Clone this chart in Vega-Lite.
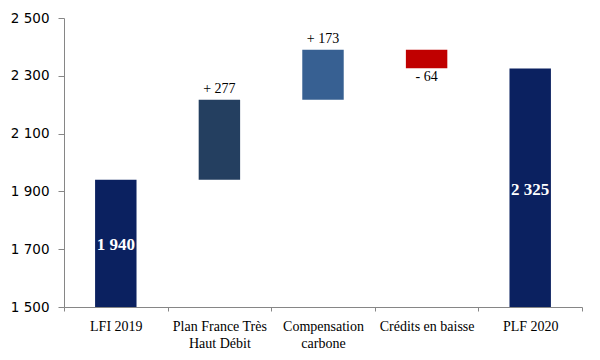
{
  "$schema": "https://vega.github.io/schema/vega-lite/v6.json",
  "width": 518,
  "height": 289,
  "autosize": "none",
  "padding": {"left": 64, "top": 18, "right": 18, "bottom": 53},
  "background": "white",
  "config": {"view": {"stroke": null}},
  "data": {
    "values": [
      {"category": "LFI 2019", "start": 1500, "end": 1940, "kind": "total", "label": "1 940"},
      {"category": "Plan France Très Haut Débit", "start": 1940, "end": 2217, "kind": "up", "label": "+ 277"},
      {"category": "Compensation carbone", "start": 2217, "end": 2390, "kind": "up", "label": "+ 173"},
      {"category": "Crédits en baisse", "start": 2390, "end": 2326, "kind": "down", "label": "- 64"},
      {"category": "PLF 2020", "start": 1500, "end": 2325, "kind": "total", "label": "2 325"}
    ]
  },
  "encoding": {
    "x": {
      "field": "category",
      "type": "nominal",
      "sort": null,
      "scale": {"paddingInner": 0, "paddingOuter": 0},
      "axis": {
        "title": null,
        "labelAngle": 0,
        "tickBand": "extent",
        "tickSize": 4,
        "tickColor": "#868686",
        "domainColor": "#868686",
        "labelFont": "Liberation Serif, Times New Roman, serif",
        "labelFontSize": 14,
        "labelColor": "#000000",
        "labelPadding": 8,
        "labelLineHeight": 17,
        "labelBaseline": "top",
        "labelExpr": "datum.value == 'Plan France Très Haut Débit' ? ['Plan France Très', 'Haut Débit'] : datum.value == 'Compensation carbone' ? ['Compensation', 'carbone'] : datum.value"
      }
    }
  },
  "layer": [
    {
      "mark": {"type": "bar", "width": {"band": 0.4}},
      "encoding": {
        "y": {
          "field": "start",
          "type": "quantitative",
          "scale": {"domain": [1500, 2500], "nice": false, "zero": false},
          "axis": {
            "title": null,
            "values": [1500, 1700, 1900, 2100, 2300, 2500],
            "grid": false,
            "tickSize": 6,
            "tickColor": "#868686",
            "domainColor": "#868686",
            "labelFont": "DejaVu Sans, sans-serif",
            "labelFontSize": 13.5,
            "labelColor": "#000000",
            "labelPadding": 9,
            "labelExpr": "replace(format(datum.value, ','), ',', ' ')"
          }
        },
        "y2": {"field": "end"},
        "color": {
          "field": "category",
          "type": "nominal",
          "legend": null,
          "scale": {
            "domain": ["LFI 2019", "Plan France Très Haut Débit", "Compensation carbone", "Crédits en baisse", "PLF 2020"],
            "range": ["#0B2160", "#243F60", "#376092", "#C00000", "#0B2160"]
          }
        }
      }
    },
    {
      "transform": [
        {"filter": "datum.kind == 'total'"},
        {"calculate": "(datum.start + datum.end) / 2", "as": "mid"}
      ],
      "mark": {"type": "text", "font": "Liberation Serif, Times New Roman, serif", "fontSize": 17, "fontWeight": "bold", "color": "white", "baseline": "middle", "dy": 2},
      "encoding": {
        "y": {"field": "mid", "type": "quantitative"},
        "text": {"field": "label"}
      }
    },
    {
      "transform": [{"filter": "datum.kind == 'up'"}],
      "mark": {"type": "text", "font": "Liberation Serif, Times New Roman, serif", "fontSize": 14, "color": "black", "baseline": "middle", "dy": -11},
      "encoding": {
        "y": {"field": "end", "type": "quantitative"},
        "text": {"field": "label"}
      }
    },
    {
      "transform": [{"filter": "datum.kind == 'down'"}],
      "mark": {"type": "text", "font": "Liberation Serif, Times New Roman, serif", "fontSize": 14, "color": "black", "baseline": "middle", "dy": 9},
      "encoding": {
        "y": {"field": "end", "type": "quantitative"},
        "text": {"field": "label"}
      }
    }
  ]
}
